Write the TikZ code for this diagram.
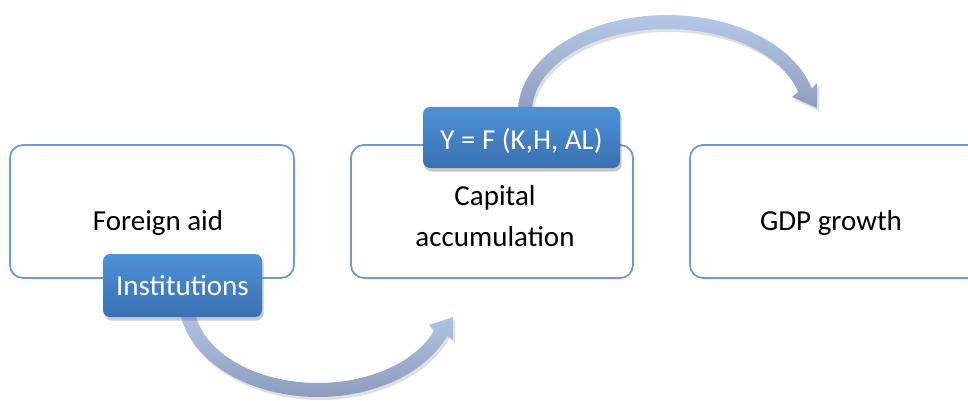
\documentclass[tikz,border=0pt]{standalone}
\usepackage{fontspec}
\setmainfont{Carlito}
\usetikzlibrary{shadows}
\definecolor{boxline}{RGB}{110,156,210}
\definecolor{bluetop}{RGB}{76,146,216}
\definecolor{bluebot}{RGB}{58,112,176}
\definecolor{arrlight}{RGB}{182,200,232}
\definecolor{arrdark}{RGB}{140,157,190}
\tikzset{
  wbox/.style={draw=boxline, line width=1.8pt, fill=white, rounded corners=13pt, rectangle},
  bluebox/.style={rectangle, rounded corners=7pt, top color=bluetop, bottom color=bluebot,
     drop shadow={shadow xshift=1.5pt, shadow yshift=-3.5pt, opacity=0.35, fill=black!60}},
  btext/.style={font=\fontsize{29}{41}\selectfont, text=white, inner sep=0pt},
  ktext/.style={font=\fontsize{29}{41}\selectfont, text=black, inner sep=0pt, align=center},
  arrowband/.style={top color=arrlight, bottom color=arrdark},
  arrowshadow/.style={fill=black, opacity=0.12}
}
\begin{document}
\begin{tikzpicture}[x=1pt,y=-1pt]
\useasboundingbox (0,0) rectangle (968,401);
\clip (0,0) rectangle (968,401);
% white boxes
\node[wbox, minimum width=284pt, minimum height=133pt] (aid) at (152,211.5) {};
\node[wbox, minimum width=282pt, minimum height=133pt] (cap) at (492,211.5) {};
\node[wbox, minimum width=290pt, minimum height=133pt] (gdp) at (835,211.5) {};
\node[ktext, anchor=base] (aidt) at (158,230) {Foreign aid};
\node[ktext, anchor=base] (capt1) at (495,205) {Capital};
\node[ktext, anchor=base] (capt2) at (495,246) {accumulation};
\node[ktext, anchor=base] (gdpt) at (831,230) {GDP growth};
% bottom arrow shadow + band
\fill[arrowshadow, shift={(2,3)}]
  plot[domain=178:21.5, samples=60] ({318+139*cos(\x)},{300+97*sin(\x)})
  -- (453,340) -- (453,317) -- (429,325)
  -- plot[domain=21.5:178, samples=60] ({318+125*cos(\x)},{300+83*sin(\x)}) -- cycle;
\shade[arrowband]
  plot[domain=178:21.5, samples=60] ({318+139*cos(\x)},{300+97*sin(\x)})
  -- (453,340) -- (453,317) -- (429,325)
  -- plot[domain=21.5:178, samples=60] ({318+125*cos(\x)},{300+83*sin(\x)}) -- cycle;
% top arrow shadow + band
\fill[arrowshadow, shift={(2,3)}]
  plot[domain=180:14, samples=60] ({667+149*cos(\x)},{112-97*sin(\x)})
  -- (817,83) -- (817,108) -- (792,97)
  -- plot[domain=14:180, samples=60] ({667+135*cos(\x)},{112-83*sin(\x)}) -- cycle;
\shade[arrowband]
  plot[domain=180:14, samples=60] ({667+149*cos(\x)},{112-97*sin(\x)})
  -- (817,83) -- (817,108) -- (792,97)
  -- plot[domain=14:180, samples=60] ({667+135*cos(\x)},{112-83*sin(\x)}) -- cycle;
% blue label boxes
\node[bluebox, minimum width=159pt, minimum height=63pt] (inst) at (182.5,285.5) {};
\node[btext, anchor=base] (instt) at (182.5,295) {Institutions};
\node[bluebox, minimum width=197pt, minimum height=61pt] (yf) at (521.5,137.5) {};
\node[btext, anchor=base] (yft) at (521.5,149) {Y = F (K,H, AL)};
\end{tikzpicture}
\end{document}
